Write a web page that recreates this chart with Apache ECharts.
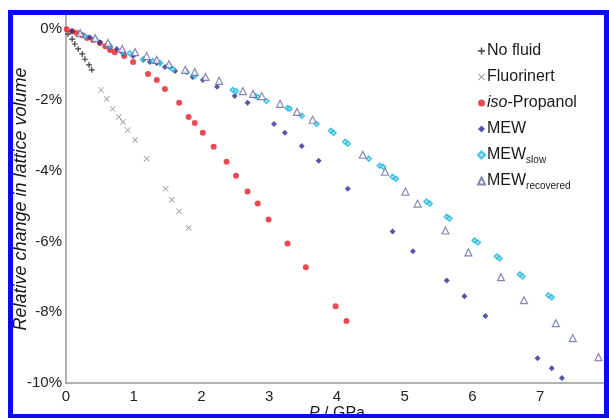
<!DOCTYPE html>
<html>
<head>
<meta charset="utf-8">
<script src="https://cdn.jsdelivr.net/npm/echarts@6/dist/echarts.min.js"></script>
<style>
  html, body { margin: 0; padding: 0; background: #fff; }
  #chart { width: 609px; height: 418px; }
</style>
</head>
<body>
<div id="chart"></div>
<script>
// pressure (GPa) and relative change in lattice volume (%) per medium
var noFluidP = [0.03, 0.09, 0.13, 0.18, 0.24, 0.28, 0.34, 0.38];
var noFluidV = [-0.14, -0.28, -0.42, -0.56, -0.70, -0.85, -1.01, -1.15];

var fluorinertP = [0.52, 0.60, 0.69, 0.78, 0.84, 0.91, 1.02, 1.19, 1.47, 1.56, 1.67, 1.81];
var fluorinertV = [-1.72, -1.97, -2.25, -2.48, -2.62, -2.85, -3.13, -3.66, -4.51, -4.82, -5.15, -5.61];

var propanolP = [0.01, 0.09, 0.16, 0.24, 0.31, 0.40, 0.50, 0.58, 0.65, 0.72, 0.86, 0.99, 1.21, 1.34, 1.46,
  1.67, 1.81, 1.90, 2.02, 2.18, 2.37, 2.51, 2.68, 2.83, 2.99, 3.27, 3.54, 3.98, 4.14];
var propanolV = [0, -0.06, -0.11, -0.17, -0.25, -0.31, -0.39, -0.48, -0.59, -0.65, -0.76, -0.93, -1.27, -1.44, -1.69,
  -2.08, -2.48, -2.65, -2.93, -3.32, -3.75, -4.14, -4.59, -4.93, -5.38, -6.06, -6.73, -7.83, -8.25];

var mewP = [0.09, 0.21, 0.35, 0.50, 0.65, 0.75, 0.84, 0.99, 1.14, 1.24, 1.34, 1.46, 1.61, 1.87, 2.02, 2.23,
  2.49, 2.68, 3.07, 3.23, 3.48, 3.73, 4.16, 4.82, 5.12, 5.62, 5.88, 6.19, 6.96, 7.17, 7.32];
var mewV = [-0.06, -0.14, -0.23, -0.37, -0.51, -0.56, -0.68, -0.76, -0.87, -0.93, -0.96, -1.07, -1.18, -1.35, -1.44, -1.63,
  -1.89, -2.08, -2.68, -2.93, -3.30, -3.72, -4.51, -5.72, -6.28, -7.10, -7.55, -8.11, -9.30, -9.58, -9.86];

var mewSlowP = [0.28, 0.43, 0.65, 0.84, 0.94, 1.14, 1.28, 1.39, 1.53, 1.58, 1.78, 1.90, 2.46, 2.51, 2.79, 2.83,
  2.96, 3.27, 3.30, 3.48, 3.70, 3.91, 3.95, 4.12, 4.16, 4.47, 4.63, 4.68, 4.82, 4.87, 5.32, 5.37,
  5.62, 5.66, 6.03, 6.08, 6.36, 6.40, 6.70, 6.74, 7.12, 7.17];
var mewSlowV = [-0.20, -0.28, -0.48, -0.65, -0.68, -0.85, -0.90, -0.96, -1.07, -1.13, -1.21, -1.32, -1.72, -1.75, -1.89, -1.92,
  -2.03, -2.23, -2.25, -2.45, -2.68, -2.87, -2.93, -3.18, -3.24, -3.66, -3.86, -3.89, -4.17, -4.23, -4.87, -4.93,
  -5.30, -5.35, -5.97, -6.03, -6.42, -6.48, -6.93, -6.99, -7.52, -7.58];

var mewRecP = [0.21, 0.43, 0.62, 0.83, 1.02, 1.19, 1.34, 1.52, 1.76, 1.90, 2.06, 2.26, 2.61, 2.76, 2.89,
  3.16, 3.41, 3.64, 4.38, 4.71, 5.01, 5.19, 5.60, 5.94, 6.42, 6.76, 7.23, 7.48, 7.86];
var mewRecV = [-0.11, -0.25, -0.39, -0.56, -0.65, -0.76, -0.87, -0.99, -1.15, -1.21, -1.35, -1.46, -1.75, -1.83, -1.89,
  -2.11, -2.34, -2.56, -3.55, -4.03, -4.59, -4.93, -5.69, -6.31, -7.01, -7.66, -8.31, -8.73, -9.27];

var xTicks = [0, 1, 2, 3, 4, 5, 6, 7, 8];
var yTicks = [0, -2, -4, -6, -8, -10];

function pairs(p, v) {
  return p.map(function (x, i) { return [x, v[i]]; });
}

var font = 'Liberation Sans, Arial, sans-serif';
var plusPath = 'path://M4,0H6V4H10V6H6V10H4V6H0V4H4Z';
var crossPath = 'path://M1,0L5,4L9,0L10,1L6,5L10,9L9,10L5,6L1,10L0,9L4,5L0,1Z';
var blue = '#0a0aee';

var chart = echarts.init(document.getElementById('chart'));
var option = {
  animation: false,
  backgroundColor: '#fff',
  grid: { left: 66, right: 1, top: 15, bottom: 35, outerBoundsMode: 'none', containLabel: false },
  legend: {
    orient: 'vertical',
    left: 472,
    top: 36,
    itemWidth: 7,
    itemHeight: 7,
    itemGap: 6,
    textStyle: {
      fontFamily: font,
      fontSize: 16,
      color: '#1a1a1a',
      lineHeight: 20,
      padding: [0, 0, 0, -3],
      rich: {
        it: { fontStyle: 'italic', fontSize: 16, lineHeight: 20, color: '#1a1a1a', fontFamily: font },
        sub: { fontSize: 10, lineHeight: 20, verticalAlign: 'bottom', color: '#1a1a1a', fontFamily: font }
      }
    },
    formatter: function (name) {
      if (name === 'iso-Propanol') return '{it|iso}-Propanol';
      if (name === 'MEW_slow') return 'MEW{sub|slow}';
      if (name === 'MEW_recovered') return 'MEW{sub|recovered}';
      return name;
    },
    data: ['No fluid', 'Fluorinert', 'iso-Propanol', 'MEW', 'MEW_slow', 'MEW_recovered']
  },
  xAxis: {
    type: 'value',
    min: 0,
    max: 8,
    interval: 1,
    name: '{i|P} / GPa',
    nameLocation: 'middle',
    nameGap: 23,
    nameMoveOverlap: false,
    nameTextStyle: {
      fontFamily: font,
      fontSize: 16,
      color: '#1a1a1a',
      rich: {
        i: { fontStyle: 'italic', fontSize: 16, color: '#1a1a1a', fontFamily: font }
      }
    },
    axisLine: { onZero: false, lineStyle: { color: '#999', width: 1.5 } },
    axisTick: { show: false },
    splitLine: { show: false },
    axisLabel: {
      margin: 6,
      fontFamily: font,
      fontSize: 15,
      color: '#222',
      formatter: function (v) { return xTicks.indexOf(v) >= 0 ? String(v) : ''; }
    }
  },
  yAxis: {
    type: 'value',
    min: -10,
    max: 0.4,
    interval: 2,
    name: 'Relative change in lattice volume',
    nameLocation: 'middle',
    nameGap: 36,
    nameMoveOverlap: false,
    nameTextStyle: {
      fontFamily: font,
      fontSize: 18,
      fontStyle: 'italic',
      color: '#1a1a1a'
    },
    axisLine: { onZero: false, lineStyle: { color: '#999', width: 1.5 } },
    axisTick: { show: false },
    splitLine: { show: false },
    axisLabel: {
      margin: 4,
      fontFamily: font,
      fontSize: 15,
      color: '#222',
      formatter: function (v) { return yTicks.indexOf(v) >= 0 ? v + '%' : ''; }
    }
  },
  series: [
    {
      name: 'No fluid', type: 'scatter', symbol: plusPath, symbolSize: 6,
      itemStyle: { color: '#111' },
      data: pairs(noFluidP, noFluidV)
    },
    {
      name: 'Fluorinert', type: 'scatter', symbol: crossPath, symbolSize: 6,
      itemStyle: { color: '#858585' },
      data: pairs(fluorinertP, fluorinertV)
    },
    {
      name: 'iso-Propanol', type: 'scatter', symbol: 'circle', symbolSize: 6,
      itemStyle: { color: '#e61e2a' },
      data: pairs(propanolP, propanolV)
    },
    {
      name: 'MEW', type: 'scatter', symbol: 'diamond', symbolSize: 6,
      itemStyle: { color: '#2e2c8e' },
      data: pairs(mewP, mewV)
    },
    {
      name: 'MEW_slow', type: 'scatter', symbol: 'diamond', symbolSize: 5,
      itemStyle: { color: '#9fe4f4', borderColor: '#22b6d8', borderWidth: 1.5 },
      data: pairs(mewSlowP, mewSlowV)
    },
    {
      name: 'MEW_recovered', type: 'scatter', symbol: 'triangle', symbolSize: 7,
      itemStyle: { color: '#fff', borderColor: '#6a6aa4', borderWidth: 1.2 },
      data: pairs(mewRecP, mewRecV)
    }
  ],
  graphic: [
    { type: 'rect', z: 100, shape: { x: 8, y: 10, width: 601, height: 5 }, style: { fill: blue } },
    { type: 'rect', z: 100, shape: { x: 8, y: 10, width: 5, height: 408 }, style: { fill: blue } },
    { type: 'rect', z: 100, shape: { x: 604, y: 10, width: 5, height: 408 }, style: { fill: blue } },
    { type: 'rect', z: 100, shape: { x: 8, y: 414, width: 601, height: 4 }, style: { fill: blue } }
  ]
};
chart.setOption(option);
</script>
</body>
</html>
